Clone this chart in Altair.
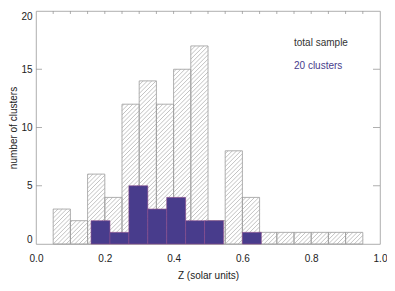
import altair as alt
import pandas as pd

# ---- data ----
total_start = 0.05
total_width = 0.05
total_counts = [3, 2, 6, 4, 12, 14, 12, 15, 17, 2, 8, 4, 1, 1, 1, 1, 1, 1]

clus_start = 0.16
clus_width = 0.055
clus_counts = [2, 1, 5, 3, 4, 2, 2, 0, 1]

x_ticks = [0.0, 0.2, 0.4, 0.6, 0.8, 1.0]
x_minor = [round(0.05 * i, 2) for i in range(1, 20)]
y_ticks = [0, 5, 10, 15, 20]
y_inner = [5, 10, 15]

labels = ["total sample", "20 clusters"]
label_colors = ["#333333", "#483c8c"]

W, H = 344, 233
XMAX, YMAX = 1.0, 20.0

tot = pd.DataFrame({
    "x0": [round(total_start + i * total_width, 3) for i in range(len(total_counts))],
    "x1": [round(total_start + (i + 1) * total_width, 3) for i in range(len(total_counts))],
    "n": total_counts,
})
clu = pd.DataFrame({
    "x0": [round(clus_start + i * clus_width, 3) for i in range(len(clus_counts))],
    "x1": [round(clus_start + (i + 1) * clus_width, 3) for i in range(len(clus_counts))],
    "n": clus_counts,
})
clu = clu[clu.n > 0]

# hatch lines (45 degrees in screen space) inside each total-sample bar
sx, sy = W / XMAX, H / YMAX
s = 4.3
rows = []
for x0, x1, n in zip(tot.x0, tot.x1, tot.n):
    px0, px1, ph = x0 * sx, x1 * sx, n * sy
    k0 = int((px0 - ph) // s) - 1
    k1 = int(px1 // s) + 1
    for k in range(k0, k1 + 1):
        c = k * s
        a = max(px0, c)
        b = min(px1, c + ph)
        if b - a > 0.3:
            rows.append({"hx": a / sx, "hy": (a - c) / sy, "hx2": b / sx, "hy2": (b - c) / sy})
hatch = pd.DataFrame(rows)

FONT = "Liberation Sans"
xs = alt.Scale(domain=[0, 1], nice=False, zero=False, padding=0)
ys = alt.Scale(domain=[0, 20], nice=False, padding=0)

base_x = alt.X("x0:Q", scale=xs,
               axis=alt.Axis(values=x_ticks, format=".1f", ticks=False, domain=False, grid=False,
                             labelPadding=9, labelFlush=False, title="Z (solar units)", titlePadding=7,
                             labelFont=FONT, titleFont=FONT, labelFontSize=10, titleFontSize=10,
                             labelColor="#222", titleColor="#222", titleFontWeight="normal"))
base_y = alt.Y("n:Q", scale=ys,
               axis=alt.Axis(values=y_ticks, ticks=False, domain=False, grid=False,
                             labelPadding=4, labelFlush=True,
                             title="number of clusters", titleX=-19.5, titleBaseline="alphabetic",
                             labelFont=FONT, titleFont=FONT, labelFontSize=10, titleFontSize=10,
                             labelColor="#222", titleColor="#222", titleFontWeight="normal"))

hatch_layer = alt.Chart(hatch).mark_rule(color="#a8a8a8", strokeWidth=0.7).encode(
    x=alt.X("hx:Q", scale=xs), y=alt.Y("hy:Q", scale=ys),
    x2="hx2:Q", y2="hy2:Q")

tot_layer = alt.Chart(tot).mark_rect(fill=None, stroke="#9a9a9a", strokeWidth=0.8).encode(
    x=base_x, x2="x1:Q", y=base_y, y2=alt.datum(0))

clu_layer = alt.Chart(clu).mark_rect(fill="#483c8c", stroke="#8a4a8a", strokeWidth=0.6).encode(
    x=alt.X("x0:Q", scale=xs), x2="x1:Q", y=alt.Y("n:Q", scale=ys), y2=alt.datum(0))

left_ticks = alt.Chart(pd.DataFrame({"t": y_inner})).mark_rule(color="#9a9a9a", strokeWidth=0.8).encode(
    y=alt.Y("t:Q", scale=ys), x=alt.value(0), x2=alt.value(6))
right_ticks = alt.Chart(pd.DataFrame({"t": y_inner})).mark_rule(color="#9a9a9a", strokeWidth=0.8).encode(
    y=alt.Y("t:Q", scale=ys), x=alt.value(W - 7), x2=alt.value(W))
top_minor = alt.Chart(pd.DataFrame({"t": x_minor})).mark_rule(color="#9a9a9a", strokeWidth=0.8).encode(
    x=alt.X("t:Q", scale=xs), y=alt.value(0), y2=alt.value(3))

text_layer = alt.Chart(pd.DataFrame({"lab": labels, "c": label_colors,
                                     "tx": [0.75, 0.75], "ty": [17.25, 15.3]})).mark_text(
    align="left", baseline="middle", font=FONT, fontSize=10).encode(
    x=alt.X("tx:Q", scale=xs), y=alt.Y("ty:Q", scale=ys),
    text="lab:N", color=alt.Color("c:N", scale=None))

chart = alt.layer(tot_layer, hatch_layer, clu_layer, left_ticks, right_ticks, top_minor, text_layer).properties(
    width=W, height=H,
    autosize=alt.AutoSizeParams(type="none"),
    padding={"left": 28, "top": 3, "right": 7, "bottom": 39},
    background="white",
).configure_view(stroke="#9a9a9a", strokeWidth=0.8)

chart.save("out.html", embed_options={"renderer": "svg", "actions": False})
